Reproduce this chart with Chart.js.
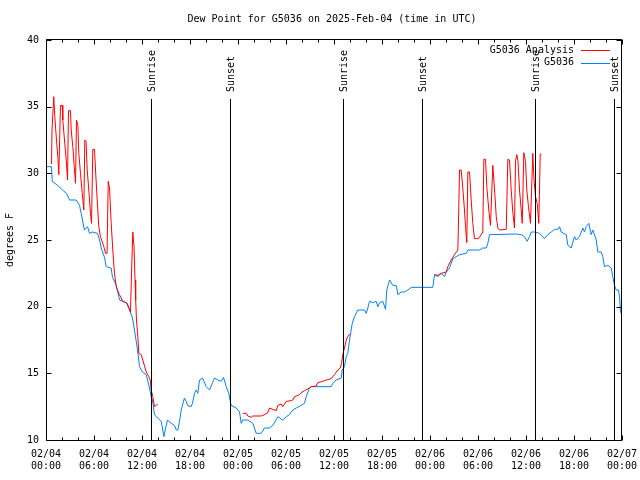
<!DOCTYPE html>
<html>
<head>
<meta charset="utf-8">
<script src="https://cdn.jsdelivr.net/npm/chart.js@4/dist/chart.umd.min.js"></script>
<style>
html,body{margin:0;padding:0;background:#fff;}
#wrap{width:640px;height:480px;position:relative;}
canvas{display:block;}
</style>
</head>
<body>
<div id="wrap"><canvas id="c" width="640" height="480"></canvas></div>
<script>
// ---- data (hours since 2025-02-04 00:00 UTC) ----
const titleText = 'Dew Point for G5036 on 2025-Feb-04 (time in UTC)';
const yAxisLabel = 'degrees F';

const obsHours = [0.0,0.69,0.78,1.44,2.06,2.56,2.94,3.78,4.19,4.4,4.56,4.81,5.19,5.44,5.81,6.44,6.69,6.9,7.31,7.53,8.15,8.31,8.78,9.19,10.03,10.44,10.81,11.06,11.44,11.69,12.06,12.53,12.94,13.15,13.31,13.56,13.94,14.4,14.56,14.73,15.03,15.19,15.65,16.06,16.28,16.48,16.69,16.9,17.31,17.53,17.69,18.15,18.31,18.56,18.78,18.98,19.19,19.56,20.03,20.44,21.06,21.48,21.9,22.19,22.53,22.85,22.94,23.15,23.78,24.19,24.4,24.6,25.23,25.85,26.28,26.9,27.31,27.94,28.35,28.98,29.6,30.03,30.44,30.85,31.28,31.9,32.31,32.53,32.94,33.15,35.65,35.85,36.28,36.9,37.03,37.31,37.53,37.73,37.94,38.28,38.56,38.98,39.81,40.03,40.23,40.44,40.85,41.28,41.48,41.69,42.1,42.44,42.6,42.94,43.35,43.78,43.98,44.4,44.81,45.23,45.65,48.35,48.56,48.98,49.4,49.81,50.03,50.44,50.85,51.28,51.69,52.53,52.73,54.19,54.6,55.03,55.23,55.44,58.78,59.4,59.81,60.15,60.44,60.65,61.06,61.69,62.31,62.73,63.15,63.56,63.98,64.19,64.4,65.03,65.23,65.65,66.06,66.28,66.69,67.1,67.31,67.53,67.85,68.15,68.35,68.78,68.98,69.4,69.6,69.81,70.23,70.65,70.85,71.06,71.28,71.56,71.69,71.81,71.9];
const obsValues = [30.5,30.5,29.4,29.1,28.75,28.5,28.0,28.0,27.6,27.0,26.5,25.75,26.0,25.5,25.6,25.5,25.0,24.4,23.7,23.0,22.9,22.2,21.6,20.5,20.3,19.75,19.15,18.25,16.75,15.5,15.1,14.9,13.9,13.25,13.0,11.9,11.65,11.4,10.9,10.25,11.1,11.5,11.25,11.1,10.75,10.75,11.4,12.25,13.15,12.9,12.6,12.5,12.75,13.5,13.75,13.5,14.5,14.65,14.0,13.75,14.65,14.5,14.4,14.7,14.0,13.5,13.15,12.6,12.4,12.1,11.25,11.5,11.5,11.25,10.5,10.5,10.9,10.9,11.1,11.75,11.5,11.75,11.9,12.25,12.4,12.6,12.75,13.25,13.9,14.0,14.0,14.25,14.5,14.65,15.25,15.5,16.25,16.5,17.5,18.75,19.25,19.75,19.75,19.5,19.9,20.4,20.3,20.4,20.0,20.3,20.4,19.8,21.25,22.0,21.6,21.6,20.9,21.1,21.1,21.25,21.45,21.45,22.4,22.25,22.5,22.25,22.6,22.9,23.6,23.75,23.9,24.0,24.25,24.25,24.4,24.4,24.75,25.4,25.45,25.4,25.25,24.9,25.25,25.6,25.6,25.5,25.1,25.4,25.6,25.8,25.8,26.0,25.6,25.4,24.6,24.4,25.25,25.0,25.25,25.9,25.6,26.0,26.25,25.4,25.75,25.0,24.1,24.1,23.75,23.0,23.1,22.9,22.25,21.6,21.25,21.25,20.75,19.6,19.5];

const anaHours = [0.69,0.75,0.97,1.1,1.31,1.48,1.6,1.81,2.03,2.1,2.31,2.53,2.69,2.81,3.06,3.15,3.35,3.53,3.69,3.81,3.98,4.1,4.31,4.53,4.73,4.85,5.0,5.15,5.35,5.56,5.69,5.85,6.06,6.19,6.4,6.6,6.81,7.23,7.44,7.63,7.78,7.94,8.15,8.35,8.56,8.78,9.1,9.6,10.15,10.56,10.69,10.85,11.0,11.13,11.21,11.31,11.48,11.6,11.9,12.1,12.53,12.85,13.03,13.15,13.35,13.56,13.78,13.98,
  19.0,
  24.6,25.03,25.23,25.65,25.85,26.9,27.31,27.73,27.94,28.35,28.78,28.98,29.4,29.6,30.03,30.65,30.85,31.06,31.69,31.9,32.31,32.94,33.15,33.78,33.98,34.6,35.03,35.65,36.06,36.48,36.78,36.94,37.1,37.31,37.53,37.73,37.94,
  43.0,
  48.56,48.98,49.4,50.03,50.23,50.65,51.06,51.48,51.6,51.69,51.9,52.1,52.31,52.44,52.6,52.73,52.94,53.15,53.35,53.56,54.06,54.4,54.6,54.73,54.94,55.1,55.35,55.56,55.85,56.1,56.28,56.48,56.69,57.53,57.73,57.94,58.15,58.35,58.56,58.69,58.85,59.0,59.19,59.4,59.53,59.73,59.94,60.1,60.31,60.56,60.85,61.0,61.19,61.4,61.6,61.78,61.9];
const anaValues = [30.7,33.25,35.75,34.25,32.5,31.25,29.9,35.1,35.1,34.0,32.5,31.0,29.5,34.7,34.7,33.25,32.0,30.5,29.25,34.0,33.6,31.5,30.0,28.5,27.25,32.5,32.4,30.25,28.75,27.0,26.25,31.8,31.8,30.25,28.0,26.0,25.25,24.5,24.0,24.0,29.4,28.9,26.25,24.25,22.5,21.5,21.0,20.4,20.25,19.6,22.5,25.6,24.5,22.0,20.5,19.0,17.75,16.5,16.4,16.0,15.1,14.75,14.5,13.75,13.25,12.5,12.6,12.7,
  null,
  12.0,12.0,11.8,11.7,11.8,11.8,11.9,12.05,12.4,12.3,12.2,12.6,12.7,12.5,12.9,12.95,13.0,13.25,13.4,13.55,13.7,13.9,14.0,14.05,14.3,14.4,14.5,14.6,14.9,15.25,15.4,15.75,16.4,16.9,17.5,17.75,17.95,
  null,
  22.4,22.35,22.5,22.6,23.0,23.5,23.9,24.25,27.4,30.25,30.25,28.9,27.25,26.0,24.8,30.1,30.1,28.0,26.25,25.1,25.1,25.4,25.6,31.05,31.05,29.0,27.25,26.1,30.6,28.5,26.75,25.9,25.75,25.8,31.05,31.0,28.75,27.1,25.9,30.9,31.4,30.9,28.75,27.25,26.25,31.55,30.9,28.75,27.5,26.25,31.5,29.5,28.25,27.75,26.25,31.45,31.45];

const sunHours = [13.13, 23.0, 37.1, 47.02, 61.08, 71.03];
const sunLabels = ['Sunrise','Sunset','Sunrise','Sunset','Sunrise','Sunset'];

const xTickValues = [0,6,12,18,24,30,36,42,48,54,60,66,72];
const xTickDates = ['02/04','02/04','02/04','02/04','02/05','02/05','02/05','02/05','02/06','02/06','02/06','02/06','02/07'];
const xTickTimes = ['00:00','06:00','12:00','18:00','00:00','06:00','12:00','18:00','00:00','06:00','12:00','18:00','00:00'];
const xMinorTicks = [2,4,8,10,14,16,20,22,26,28,32,34,38,40,44,46,50,52,56,58,62,64,68,70];
const yTickValues = [10,15,20,25,30,35,40];

const seriesNames = ['G5036 Analysis','G5036'];
const seriesColors = ['#ff0000','#0080ff'];

// ---- build ----
const FONT = '"DejaVu Sans Mono", "Liberation Mono", monospace';
function pts(xs, ys){ return xs.map((x,i)=>({x:x, y:ys[i]})); }

const framePlugin = {
  id:'frame',
  afterDatasetsDraw(chart){
    const ctx = chart.ctx, xs = chart.scales.x, ys = chart.scales.y;
    const L = Math.floor(chart.chartArea.left)+0.5, R = Math.floor(chart.chartArea.right)-0.5;
    const T = Math.floor(chart.chartArea.top)-0.5, B = Math.floor(chart.chartArea.bottom)+0.5;
    ctx.save();
    // sunrise / sunset markers
    ctx.strokeStyle='#000'; ctx.lineWidth=1; ctx.fillStyle='#000';
    ctx.font = '10px ' + FONT;
    sunHours.forEach((h,i)=>{
      const px = Math.round(xs.getPixelForValue(h))+0.5;
      ctx.beginPath(); ctx.moveTo(px, 99); ctx.lineTo(px, B); ctx.stroke();
      ctx.save();
      ctx.translate(px+1, 92);
      ctx.rotate(-Math.PI/2);
      ctx.textAlign='left'; ctx.textBaseline='middle';
      ctx.fillText(sunLabels[i], 0, 0);
      ctx.restore();
    });
    // border
    ctx.beginPath(); ctx.rect(L, T, R-L, B-T); ctx.stroke();
    // ticks
    ctx.beginPath();
    xTickValues.forEach(v=>{
      const px = Math.round(xs.getPixelForValue(v))+0.5;
      ctx.moveTo(px,B); ctx.lineTo(px,B-5); ctx.moveTo(px,T); ctx.lineTo(px,T+5);
    });
    xMinorTicks.forEach(v=>{
      const px = Math.round(xs.getPixelForValue(v))+0.5;
      ctx.moveTo(px,B); ctx.lineTo(px,B-3); ctx.moveTo(px,T); ctx.lineTo(px,T+3);
    });
    yTickValues.forEach(v=>{
      const py = Math.round(ys.getPixelForValue(v))+0.5;
      ctx.moveTo(L,py); ctx.lineTo(L+5,py); ctx.moveTo(R,py); ctx.lineTo(R-5,py);
    });
    ctx.stroke();
    // legend
    ctx.textAlign='right'; ctx.textBaseline='middle';
    chart.data.datasets.forEach((ds,i)=>{
      const y = 50 + i*12.5;
      ctx.fillStyle='#000';
      ctx.fillText(ds.label, 574, y);
      ctx.strokeStyle = ds.borderColor;
      ctx.beginPath(); ctx.moveTo(581, Math.round(y)+0.5); ctx.lineTo(610, Math.round(y)+0.5); ctx.stroke();
    });
    // title
    ctx.fillStyle='#000'; ctx.textAlign='center'; ctx.textBaseline='middle';
    ctx.fillText(titleText, 332, 19.5);
    // y axis title
    ctx.save();
    ctx.translate(10, (chart.chartArea.top+chart.chartArea.bottom)/2);
    ctx.rotate(-Math.PI/2);
    ctx.textAlign='center'; ctx.textBaseline='middle';
    ctx.fillText(yAxisLabel, 0, 0);
    ctx.restore();
    ctx.restore();
  }
};

new Chart(document.getElementById('c'), {
  type:'line',
  data:{
    datasets:[
      {label:seriesNames[0], data:pts(anaHours, anaValues), borderColor:seriesColors[0], borderWidth:1, pointRadius:0, tension:0, spanGaps:false, fill:false},
      {label:seriesNames[1], data:pts(obsHours, obsValues), borderColor:seriesColors[1], borderWidth:1, pointRadius:0, tension:0, spanGaps:false, fill:false}
    ]
  },
  options:{
    responsive:false, animation:false, devicePixelRatio:1,
    layout:{padding:{top:40, right:18, left:0, bottom:0}},
    plugins:{legend:{display:false}, title:{display:false}, tooltip:{enabled:false}},
    scales:{
      x:{
        type:'linear', min:0, max:72,
        grid:{display:false, drawTicks:false}, border:{display:false},
        afterBuildTicks(s){ s.ticks = xTickValues.map(v=>({value:v})); },
        afterFit(s){ s.height = 40; s.paddingLeft = 0; s.paddingRight = 0; },
        ticks:{
          autoSkip:false, maxRotation:0, minRotation:0, padding:8, color:'#000',
          font:{family:FONT, size:10, lineHeight:1.25},
          callback(v){ const i = xTickValues.indexOf(v); return i<0 ? '' : [xTickDates[i], xTickTimes[i]]; }
        }
      },
      y:{
        min:10, max:40,
        grid:{display:false, drawTicks:false}, border:{display:false},
        afterBuildTicks(s){ s.ticks = yTickValues.map(v=>({value:v})); },
        afterFit(s){ s.width = 46; s.paddingTop = 0; s.paddingBottom = 0; },
        ticks:{padding:7, color:'#000', font:{family:FONT, size:10}, callback(v){ return String(v); }}
      }
    }
  },
  plugins:[framePlugin]
});
</script>
</body>
</html>
